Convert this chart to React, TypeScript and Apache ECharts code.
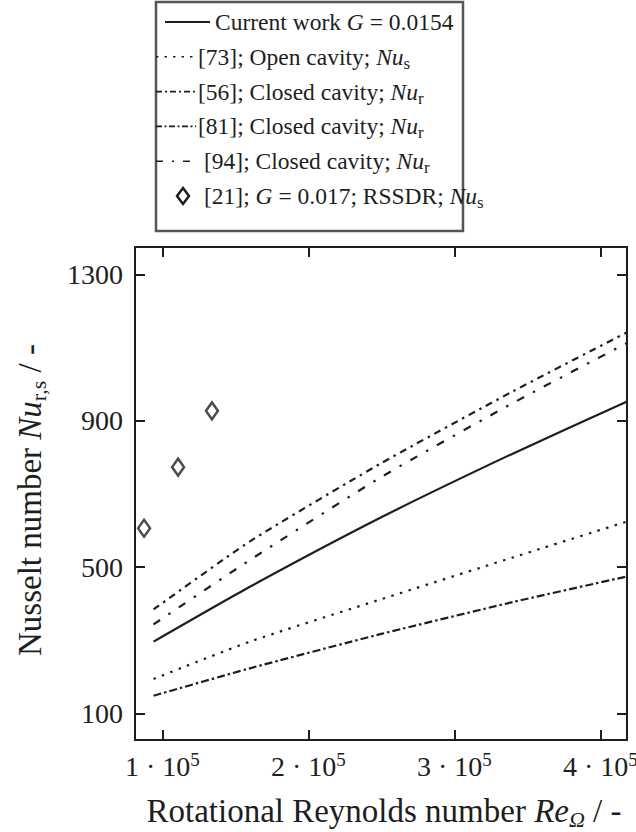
import React, { useEffect, useRef } from "react";
import * as echarts from "echarts";

// Rotational Reynolds number samples (x) shared by the correlation curves
const reValues = [94000, 160000, 250000, 340000, 418000];

// Nusselt number curves
const currentWork = [296, 446, 636, 810, 952];
const ref73Open = [194, 296, 412, 526, 624];
const ref56Closed = [384, 570, 784, 980, 1141];
const ref81Closed = [148, 223, 317, 404, 474];
const ref94Closed = [343, 519, 746, 948, 1112];

// Experimental points [21]
const ref21Re = [87500, 110800, 134000];
const ref21Nu = [606, 773, 927];

// Axis ticks
const xTicks = [100000, 200000, 300000, 400000];
const yTicks = [100, 500, 900, 1300];

const INK = "#1e1e1e";
const FONT = "Liberation Serif";

const pair = (xs: number[], ys: number[]) => xs.map((x, i) => [x, ys[i]]);

const legendRows = [
  { text: "{r|Current work }{i|G}{r| = 0.0154}", dash: "solid" as any, x0: 165, x1: 210, tx: 215 },
  { text: "{r|[73]; Open cavity; }{i|Nu}{s|s}", dash: [2.5, 6], x0: 156, x1: 196, tx: 198 },
  { text: "{r|[56]; Closed cavity; }{i|Nu}{s|r}", dash: [6, 3, 2, 3], x0: 156, x1: 196, tx: 198 },
  { text: "{r|[81]; Closed cavity; }{i|Nu}{s|r}", dash: [6, 2.5, 2, 2.5], x0: 156, x1: 196, tx: 198 },
  { text: "{r|[94]; Closed cavity; }{i|Nu}{s|r}", dash: [7, 9, 2, 9], x0: 156, x1: 196, tx: 204 },
  { text: "{r|[21]; }{i|G}{r| = 0.017; RSSDR; }{i|Nu}{s|s}", dash: null, x0: 0, x1: 0, tx: 204 },
];
const ROW0 = 22;
const ROW_STEP = 34.8;

const LEG_FS = 23.5;
const legendRich = {
  r: { fontFamily: FONT, fontSize: LEG_FS, lineHeight: 30, fill: INK },
  i: { fontStyle: "italic", fontSize: LEG_FS, fontFamily: FONT, lineHeight: 30, fill: INK },
  s: { fontSize: 17, fontFamily: FONT, lineHeight: 12, verticalAlign: "bottom", fill: INK },
};

const TITLE_FS = 33;
const titleRich = {
  r: { fontFamily: FONT, fontSize: TITLE_FS, lineHeight: 38, fill: INK },
  i: { fontStyle: "italic", fontFamily: FONT, fontSize: TITLE_FS, lineHeight: 38, fill: INK },
  s: { fontFamily: FONT, fontSize: 22, lineHeight: 16, verticalAlign: "bottom", fill: INK },
  si: { fontStyle: "italic", fontFamily: FONT, fontSize: 22, lineHeight: 16, verticalAlign: "bottom", fill: INK },
};

function buildLegend(): any[] {
  const els: any[] = [
    {
      type: "rect",
      shape: { x: 156, y: 2, width: 307, height: 229 },
      style: { fill: "#fff", stroke: "#555", lineWidth: 2.5 },
      z: 10,
    },
  ];
  legendRows.forEach((row, k) => {
    const cy = ROW0 + k * ROW_STEP;
    if (row.dash) {
      els.push({
        type: "line",
        shape: { x1: row.x0, y1: cy, x2: row.x1, y2: cy },
        style: {
          stroke: INK,
          lineWidth: row.dash === "solid" ? 2 : 1.6,
          lineDash: row.dash === "solid" ? null : row.dash,
        },
        z: 11,
      });
    } else {
      els.push({
        type: "polygon",
        shape: { points: [[183, cy - 8], [189, cy], [183, cy + 8], [177, cy]] },
        style: { fill: "#fff", stroke: INK, lineWidth: 2.5 },
        z: 11,
      });
    }
    els.push({
      type: "text",
      x: row.tx,
      y: cy,
      style: {
        text: row.text,
        fontFamily: FONT,
        fontSize: LEG_FS,
        lineHeight: 30,
        fill: INK,
        verticalAlign: "middle",
        align: "left",
        rich: legendRich,
      },
      z: 11,
    });
  });
  return els;
}

function buildTitles(): any[] {
  return [
    {
      type: "text",
      x: 384,
      y: 811,
      style: {
        text: "{r|Rotational Reynolds number }{i|Re}{si|Ω}{r| / -}",
        fontFamily: FONT,
        fontSize: TITLE_FS,
        lineHeight: 38,
        fill: INK,
        align: "center",
        verticalAlign: "middle",
        rich: titleRich,
      },
    },
    {
      type: "text",
      x: 30,
      y: 500,
      rotation: Math.PI / 2,
      style: {
        text: "{r|Nusselt number }{i|Nu}{s|r,s}{r| / -}",
        fontFamily: FONT,
        fontSize: TITLE_FS,
        lineHeight: 38,
        fill: INK,
        align: "center",
        verticalAlign: "middle",
        rich: titleRich,
      },
    },
  ];
}

export default function App() {
  const ref = useRef<HTMLDivElement>(null);

  useEffect(() => {
    document.body.style.margin = "0";
    const chart = echarts.init(ref.current!, null, { renderer: "svg" });

    const axisLineStyle = { color: INK, width: 2 };
    const tickStyle = { color: INK, width: 2 };

    const lineSeries = (name: string, ys: number[], dash: any, width = 2) => ({
      name,
      type: "line",
      data: pair(reValues, ys),
      showSymbol: false,
      symbol: "none",
      smooth: 0.2,
      lineStyle: { color: INK, width, type: dash, cap: "butt" },
      silent: true,
    });

    const tickRich = {
      r: { fontSize: 28, fontFamily: FONT, lineHeight: 32, color: INK },
      sup: { fontSize: 19, fontFamily: FONT, lineHeight: 18, verticalAlign: "top", color: INK },
    };

    const xAxisBase = {
      type: "value",
      min: 81300,
      max: 418300,
      axisLine: { show: true, onZero: false, lineStyle: axisLineStyle },
      axisTick: { show: true, inside: true, length: 10, lineStyle: tickStyle, customValues: xTicks },
      splitLine: { show: false },
    };
    const yAxisBase = {
      type: "value",
      min: 27,
      max: 1375,
      axisLine: { show: true, onZero: false, lineStyle: axisLineStyle },
      axisTick: { show: true, inside: true, length: 10, lineStyle: tickStyle, customValues: yTicks },
      splitLine: { show: false },
    };

    chart.setOption({
      animation: false,
      backgroundColor: "#fff",
      textStyle: { fontFamily: FONT, color: INK },
      grid: { left: 135, top: 247, width: 492, height: 493, containLabel: false, outerBoundsMode: "none" },
      xAxis: [
        {
          ...xAxisBase,
          position: "bottom",
          axisLabel: {
            show: true,
            margin: 10,
            customValues: xTicks,
            fontFamily: FONT,
            fontSize: 28,
            lineHeight: 32,
            color: INK,
            formatter: (v: number) => `{r|${Math.round(v / 100000)} · 10}{sup|5}`,
            rich: tickRich,
          },
        },
        { ...xAxisBase, position: "top", axisLabel: { show: false } },
      ],
      yAxis: [
        {
          ...yAxisBase,
          position: "left",
          axisLabel: {
            show: true,
            margin: 12,
            customValues: yTicks,
            fontFamily: FONT,
            fontSize: 28,
            color: INK,
            formatter: (v: number) => String(v),
          },
        },
        { ...yAxisBase, position: "right", axisLabel: { show: false } },
      ],
      series: [
        lineSeries("Current work", currentWork, "solid", 2.2),
        lineSeries("[73]", ref73Open, [2.5, 6.5], 2.2),
        lineSeries("[56]", ref56Closed, [7, 5, 2.5, 5], 2.2),
        lineSeries("[81]", ref81Closed, [8, 3, 2.5, 3], 2.2),
        lineSeries("[94]", ref94Closed, [8, 10, 2.5, 10], 2.2),
        {
          name: "[21]",
          type: "scatter",
          data: pair(ref21Re, ref21Nu),
          symbol: "diamond",
          symbolSize: [12, 17],
          itemStyle: { color: "#fff", borderColor: INK, borderWidth: 2.5 },
          silent: true,
        },
      ],
      graphic: [...buildLegend(), ...buildTitles()],
    });

    return () => chart.dispose();
  }, []);

  return (
    <div
      ref={ref}
      style={{ position: "absolute", left: 0, top: 0, width: 636, height: 832 }}
    />
  );
}
